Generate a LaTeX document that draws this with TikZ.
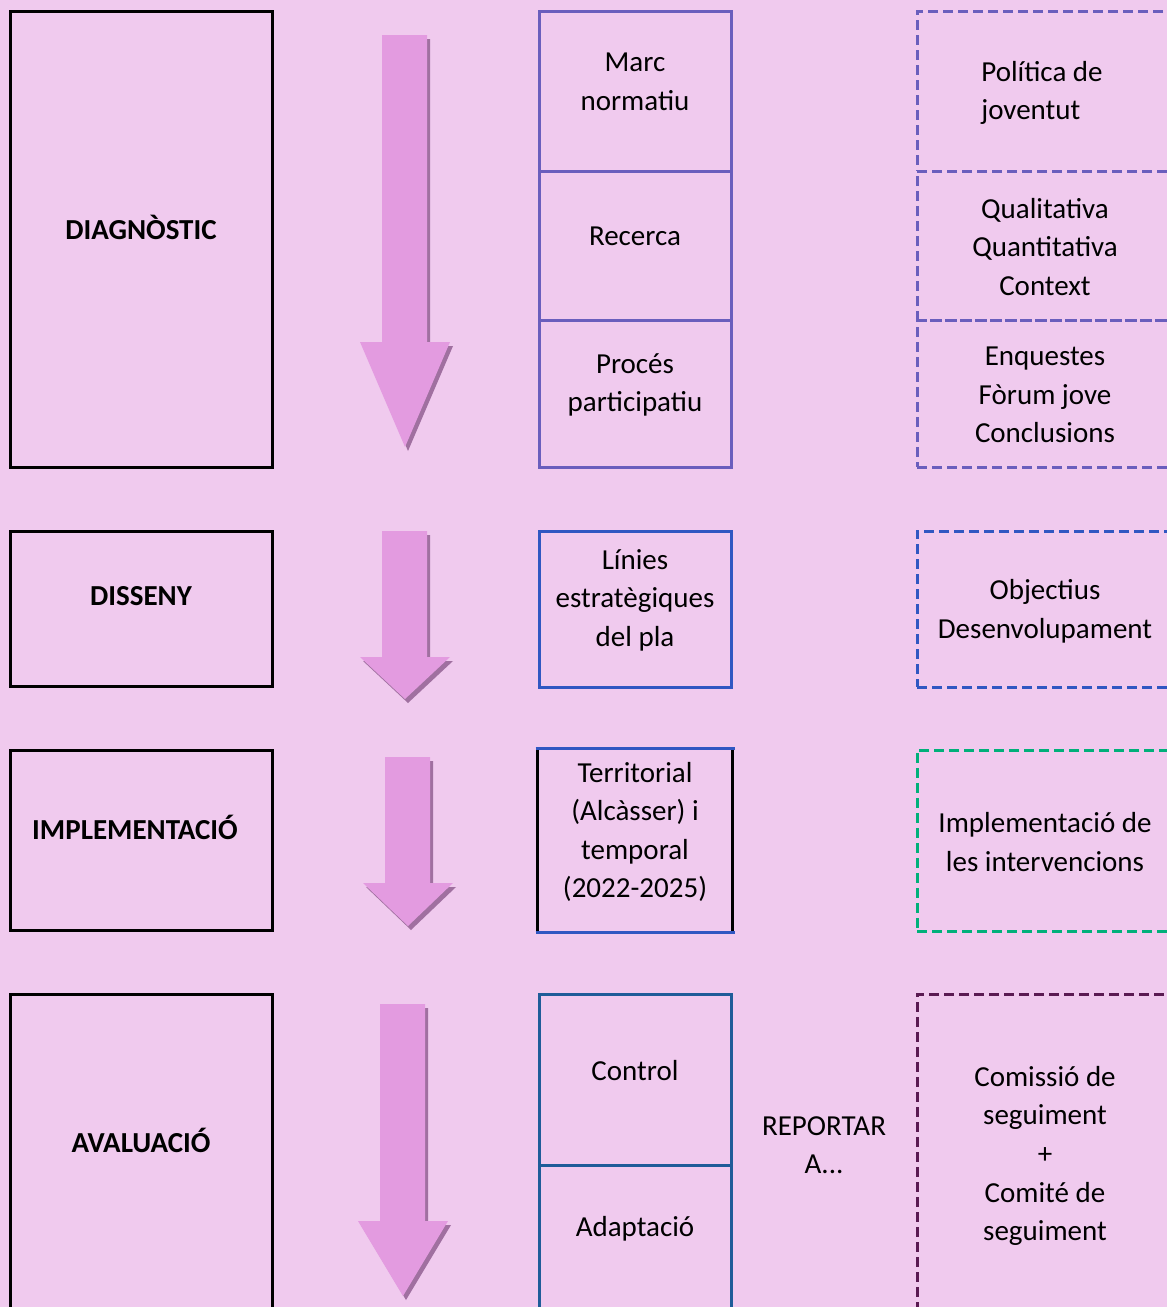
\documentclass[tikz,border=0pt]{standalone}
\usepackage{fontspec}
\setmainfont{Carlito}
\definecolor{bg}{HTML}{F0CAEE}
\definecolor{afill}{HTML}{E39BE0}
\definecolor{ashadow}{HTML}{A070A0}
\definecolor{cpurple}{HTML}{6A5EBD}
\definecolor{cblue}{HTML}{3057C2}
\definecolor{cteal}{HTML}{1F5C99}
\definecolor{cgreen}{HTML}{00B07A}
\definecolor{cplum}{HTML}{5A1A52}
\newcommand\dnarrow[7]{%
  \foreach \dx/\dy/\col in {3/4/ashadow,0/0/afill}{%
    \fill[\col,shift={(\dx,\dy)}] (#1,#3) -- (#2,#3) -- (#2,#4) -- (#6,#4) -- ({(#5+#6)/2},#7) -- (#5,#4) -- (#1,#4) -- cycle;}}
\begin{document}
\begin{tikzpicture}[x=1pt,y=-1pt,
  box/.style={rectangle, line width=3pt, inner sep=0pt},
  col1/.style={box, draw=black, minimum width=262pt},
  col2/.style={box, minimum width=192pt},
  col3/.style={box, dash pattern=on 10pt off 5pt, minimum width=268pt},
  txt/.style={font=\fontsize{29}{38.6}\selectfont, align=center, inner sep=0pt, yshift=-2pt},
  btxt/.style={font=\fontsize{29}{38.6}\selectfont\bfseries, inner sep=0pt, yshift=1.5pt}]
\fill[bg] (0,0) rectangle (1167,1307);
\clip (0,0) rectangle (1167,1307);

% column 1
\node[col1, minimum height=456pt] (diag) at (141,239) {};
\node[col1, minimum height=155pt] (diss) at (141,608.5) {};
\node[col1, minimum height=180pt] (impl) at (141,840) {};
\node[col1, minimum height=326pt] (aval) at (141,1157) {};
\node[btxt] (tdiag) at (141,229) {DIAGNÒSTIC};
\node[btxt] (tdiss) at (141,598) {DISSENY};
\node[btxt] (timpl) at (135,829) {IMPLEMENTACIÓ};
\node[btxt] (taval) at (141,1142) {AVALUACIÓ};

% arrows
\dnarrow{382}{427}{35}{342}{360}{450}{447}
\dnarrow{382}{427}{531}{657}{360}{450}{699}
\dnarrow{385}{430}{757}{883}{363}{453}{926}
\dnarrow{380}{425}{1004}{1221}{358}{448}{1296}

% column 2
\node[col2, draw=cpurple, minimum height=160pt] (marc) at (635,91) {};
\node[col2, draw=cpurple, minimum height=149pt] (rec) at (635,245.5) {};
\node[col2, draw=cpurple, minimum height=147pt] (proc) at (635,393.5) {};
\node[col2, draw=cblue, minimum height=156pt] (lin) at (635,609) {};
\node[col2, minimum height=181pt] (terr) at (635,840.5) {};
\draw[line width=3pt] (terr.north east) -- (terr.south east) (terr.north west) -- (terr.south west);
\draw[line width=3pt, cblue] ([xshift=-2pt]terr.north west) -- ([xshift=2pt]terr.north east)
  ([xshift=-2pt]terr.south west) -- ([xshift=2pt]terr.south east);
\node[col2, draw=cteal, minimum height=171pt] (ctrl) at (635,1079.5) {};
\node[col2, draw=cteal, minimum height=155pt] (adap) at (635,1242.5) {};
\node[txt] (tmarc) at (635,80) {Marc\\normatiu};
\node[txt] (trec) at (635,234) {Recerca};
\node[txt] (tproc) at (635,383) {Procés\\participatiu};
\node[txt] (tlin) at (635,598) {Línies\\estratègiques\\del pla};
\node[txt] (tterr) at (635,830) {Territorial\\(Alcàsser) i\\temporal\\(2022-2025)};
\node[txt] (tctrl) at (635,1069) {Control};
\node[txt] (tadap) at (635,1227) {Adaptació};

\node[txt] (trep) at (824,1143) {REPORTAR\\A...};

% column 3
\node[col3, draw=cpurple, minimum height=160pt] (pol) at (1051,91) {};
\node[col3, draw=cpurple, minimum height=149pt] (qual) at (1051,245.5) {};
\node[col3, draw=cpurple, minimum height=147pt] (enq) at (1051,393.5) {};
\node[col3, draw=cblue, minimum height=156pt] (obj) at (1051,609) {};
\node[col3, draw=cgreen, minimum height=181pt] (imp) at (1051,840.5) {};
\node[col3, draw=cplum, minimum height=326pt] (com) at (1051,1157) {};
\node[txt, align=left] (tpol) at (1042,91) {Política de\\joventut};
\node[txt] (tqual) at (1045,245) {Qualitativa\\Quantitativa\\Context};
\node[txt] (tenq) at (1045,393) {Enquestes\\Fòrum jove\\Conclusions};
\node[txt] (tobj) at (1045,609) {Objectius\\Desenvolupament};
\node[txt] (timp) at (1045,840) {Implementació de\\les intervencions};
\node[txt] (tcom) at (1045,1154) {Comissió de\\seguiment\\+\\Comité de\\seguiment};
\end{tikzpicture}
\end{document}
